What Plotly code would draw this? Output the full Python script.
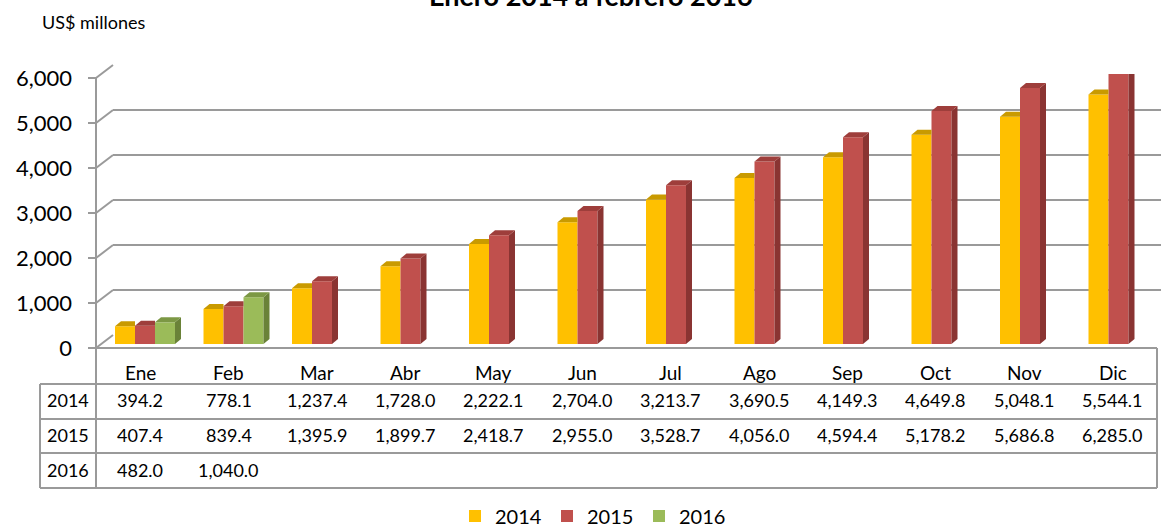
import plotly.graph_objects as go

# ---------------- data ----------------
months = ["Ene", "Feb", "Mar", "Abr", "May", "Jun", "Jul", "Ago", "Sep", "Oct", "Nov", "Dic"]
years = ["2014", "2015", "2016"]
v2014 = [394.2, 778.1, 1237.4, 1728.0, 2222.1, 2704.0, 3213.7, 3690.5, 4149.3, 4649.8, 5048.1, 5544.1]
v2015 = [407.4, 839.4, 1395.9, 1899.7, 2418.7, 2955.0, 3528.7, 4056.0, 4594.4, 5178.2, 5686.8, 6285.0]
v2016 = [482.0, 1040.0, None, None, None, None, None, None, None, None, None, None]
ytick_vals = [0, 1000, 2000, 3000, 4000, 5000, 6000]
ytick_text = ["0", "1,000", "2,000", "3,000", "4,000", "5,000", "6,000"]
title_text = "Enero 2014 a febrero 2016"
unit_text = "US$ millones"

series = [v2014, v2015, v2016]
front_col = ["#FFC000", "#C0504D", "#9BBB59"]
top_col = ["#C99A00", "#9E3E3B", "#7C9844"]
side_col = ["#B08600", "#8A3432", "#6A8238"]

# ---------------- geometry (pixels) ----------------
W, H = 1161, 529
FONT = "Lato"
PLOT_L, PLOT_R = 113, 1161          # back wall
BACK_TOP, BACK_BOT = 65, 335        # 6000 / 0 on back wall
FRONT_DX, FRONT_DY = 17, 13         # front plane offset
AX_X = PLOT_L - FRONT_DX            # front axis line x
BAR_ZERO, BAR_TOP, BAR_DOM_BOT = 344, 74, 348
G0, CAT = 145.0, 88.5               # first group centre, category pitch
BARFRAC = 0.678
NS = 3
DX3, DY3 = 6, 5                     # 3-D depth of bars
TAB_L, TAB_C, TAB_R = 40, 96, 1157
ROW_Y = [348, 384, 419, 453, 488]
GRID = "#9A9A9A"


def fx(px):
    return px / W


def fy(py):
    return 1 - py / H


YMAX = ytick_vals[-1]
pxv_back = (BACK_BOT - BACK_TOP) / YMAX
pxv_bar = (BAR_ZERO - BAR_TOP) / YMAX
y2min = -(BAR_DOM_BOT - BAR_ZERO) / pxv_bar
x0 = (PLOT_L - G0) / CAT
x1 = (PLOT_R - G0) / CAT
xidx = list(range(len(months)))

fig = go.Figure()
# empty trace so that the back-wall subplot (gridlines + y labels) is built
fig.add_trace(go.Scatter(x=[], y=[], xaxis="x", yaxis="y", showlegend=False,
                         hoverinfo="skip"))
for k, (yr, vals) in enumerate(zip(years, series)):
    fig.add_trace(go.Bar(
        x=xidx, y=vals, name=yr, yaxis="y2",
        marker=dict(color=front_col[k], line=dict(width=0)),
        hovertext=months,
    ))

shapes = []
# 3-D faces of bars (computed from the data through axis units)
bw = BARFRAC / NS
dxu = DX3 / CAT
dyu = DY3 / pxv_bar
for i in xidx:
    present = [k for k in range(NS) if series[k][i] is not None]
    last = present[-1]
    for k in present:
        v = min(series[k][i], YMAX)
        left = i + (k - (NS - 1) / 2) * bw - bw / 2
        right = left + bw
        if k == last:
            top = f"M{left},{v} L{right},{v} L{right+dxu},{v+dyu} L{left+dxu},{v+dyu} Z"
            side = f"M{right},0 L{right},{v} L{right+dxu},{v+dyu} L{right+dxu},{dyu} Z"
            shapes.append(dict(type="path", xref="x", yref="y2", path=side,
                               fillcolor=side_col[k], line=dict(width=0), layer="above"))
        else:
            top = f"M{left},{v} L{right},{v} L{right},{v+dyu} L{left+dxu},{v+dyu} Z"
        shapes.append(dict(type="path", xref="x", yref="y2", path=top,
                           fillcolor=top_col[k], line=dict(width=0), layer="above"))


def seg(xa, ya, xb, yb):
    shapes.append(dict(type="line", xref="paper", yref="paper",
                       x0=fx(xa), y0=fy(ya), x1=fx(xb), y1=fy(yb),
                       line=dict(color=GRID, width=2), layer="above"))


# front vertical axis line (continues as table border)
seg(AX_X, BACK_TOP + FRONT_DY, AX_X, ROW_Y[-1])
for v in ytick_vals:
    by = BACK_BOT - v * pxv_back
    fyy = by + FRONT_DY
    seg(AX_X - 8, fyy, AX_X, fyy)
    seg(AX_X, fyy, PLOT_L, by)
# floor front edge / table top
seg(AX_X, ROW_Y[0], TAB_R, ROW_Y[0])
for ry in ROW_Y[1:]:
    seg(TAB_L, ry, TAB_R, ry)
seg(TAB_L, ROW_Y[1], TAB_L, ROW_Y[-1])
seg(TAB_R, ROW_Y[0], TAB_R, ROW_Y[-1])

# table text
annotations = []
TFS = 18
colw = (TAB_R - TAB_C) / len(months)
text_y = [372, 400, 435, 470]
for j, m in enumerate(months):
    annotations.append(dict(text=m, x=fx(TAB_C + (j + 0.5) * colw), y=fy(text_y[0]),
                            xref="paper", yref="paper", showarrow=False,
                            xanchor="center", yanchor="middle",
                            font=dict(family=FONT, size=TFS + 1, color="#000")))
for r, (yr, vals) in enumerate(zip(years, series)):
    annotations.append(dict(text=yr, x=fx((TAB_L + TAB_C) / 2), y=fy(text_y[r + 1]),
                            xref="paper", yref="paper", showarrow=False,
                            xanchor="center", yanchor="middle",
                            font=dict(family=FONT, size=TFS, color="#000")))
    for j, v in enumerate(vals):
        if v is None:
            continue
        annotations.append(dict(text=f"{v:,.1f}", x=fx(TAB_C + (j + 0.5) * colw),
                                y=fy(text_y[r + 1]), xref="paper", yref="paper",
                                showarrow=False, xanchor="center", yanchor="middle",
                                font=dict(family=FONT, size=TFS, color="#000")))

annotations.append(dict(text=f"<b>{title_text}</b>", x=fx(591), y=fy(-4),
                        xref="paper", yref="paper", showarrow=False,
                        xanchor="center", yanchor="middle",
                        font=dict(family=FONT, size=27, color="#000")))
annotations.append(dict(text=unit_text, x=fx(40), y=fy(22),
                        xref="paper", yref="paper", showarrow=False,
                        xanchor="left", yanchor="middle",
                        font=dict(family=FONT, size=18, color="#000")))

fig.update_layout(
    width=W, height=H, autosize=False,
    margin=dict(l=0, r=0, t=0, b=0, pad=0, autoexpand=False),
    paper_bgcolor="white", plot_bgcolor="rgba(0,0,0,0)",
    barmode="group", bargap=1 - BARFRAC, bargroupgap=0,
    font=dict(family=FONT, color="#000"),
    xaxis=dict(domain=[fx(PLOT_L), fx(PLOT_R)], range=[x0, x1], anchor="y",
               showgrid=False, zeroline=False, showline=False,
               showticklabels=False, ticks="", automargin=False),
    yaxis=dict(domain=[fy(BACK_BOT), fy(BACK_TOP)], range=[0, YMAX], anchor="x",
               tickvals=ytick_vals, ticktext=ytick_text,
               showgrid=True, gridcolor=GRID, gridwidth=2,
               zeroline=False, showline=False, ticks="", automargin=False,
               ticklabelshift=FRONT_DY, ticklabelstandoff=40,
               tickfont=dict(family=FONT, size=22, color="#000")),
    yaxis2=dict(domain=[fy(BAR_DOM_BOT), fy(BAR_TOP)], range=[y2min, YMAX],
                anchor="x", visible=False, showgrid=False, zeroline=False,
                automargin=False),
    legend=dict(orientation="h", x=fx(593), xanchor="center",
                y=fy(516), yanchor="middle",
                font=dict(family=FONT, size=20, color="#000"),
                itemwidth=30, entrywidth=47, bgcolor="rgba(0,0,0,0)"),
    shapes=shapes,
    annotations=annotations,
)

fig.write_html("out.html", config={"displayModeBar": False},
               post_script="document.body.style.margin='0';")
